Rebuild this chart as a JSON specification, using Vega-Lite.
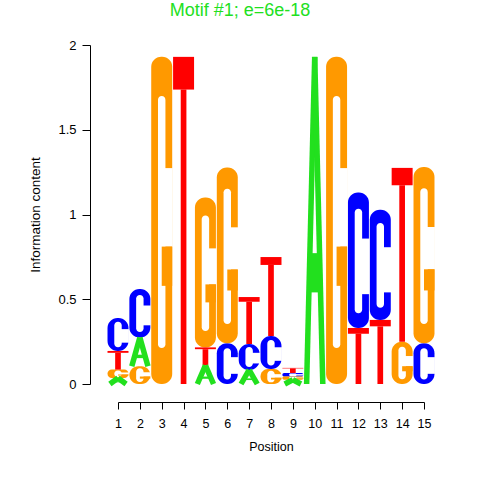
{
  "$schema": "https://vega.github.io/schema/vega-lite/v6.json",
  "width": 306,
  "height": 339,
  "autosize": {"type": "none"},
  "padding": {"left": 118, "top": 45, "right": 56, "bottom": 96},
  "background": "white",
  "title": {"text": "Motif #1; e=6e-18", "color": "#22E01E", "font": "Liberation Sans", "fontSize": 18, "fontWeight": "normal", "anchor": "middle", "frame": "group", "dx": -31, "offset": 19},
  "config": {
    "view": {"stroke": null},
    "axisX": {"offset": 18, "tickSize": 7, "labelPadding": 8, "labelFontSize": 12.5, "labelFont": "Liberation Sans", "labelColor": "black", "labelAngle": 0, "labelFlush": false, "labelOverlap": false, "labelBound": false, "titleFont": "Liberation Sans", "titleFontSize": 12.5, "titleFontWeight": "normal", "titleColor": "black", "titlePadding": 11, "domainColor": "black", "tickColor": "black", "grid": false},
    "axisY": {"offset": 28, "tickSize": 8, "labelPadding": 6, "labelFontSize": 13, "labelFont": "Liberation Sans", "labelColor": "black", "labelFlush": false, "labelOverlap": false, "labelBound": false, "titleFont": "Liberation Sans", "titleFontSize": 13.5, "titleFontWeight": "normal", "titleColor": "black", "titlePadding": 15, "domainColor": "black", "tickColor": "black", "grid": false}
  },
  "data": {"values": [
    {"pos": 1, "letter": "A", "bits": 0.035, "order": 1},
    {"pos": 1, "letter": "G", "bits": 0.05, "order": 2},
    {"pos": 1, "letter": "T", "bits": 0.11, "order": 3},
    {"pos": 1, "letter": "C", "bits": 0.195, "order": 4},
    {"pos": 2, "letter": "G", "bits": 0.105, "order": 1},
    {"pos": 2, "letter": "A", "bits": 0.17, "order": 2},
    {"pos": 2, "letter": "C", "bits": 0.285, "order": 3},
    {"pos": 3, "letter": "G", "bits": 1.93, "order": 1},
    {"pos": 4, "letter": "T", "bits": 1.93, "order": 1},
    {"pos": 5, "letter": "A", "bits": 0.11, "order": 1},
    {"pos": 5, "letter": "T", "bits": 0.106, "order": 2},
    {"pos": 5, "letter": "G", "bits": 0.885, "order": 3},
    {"pos": 6, "letter": "C", "bits": 0.24, "order": 1},
    {"pos": 6, "letter": "G", "bits": 1.037, "order": 2},
    {"pos": 7, "letter": "A", "bits": 0.083, "order": 1},
    {"pos": 7, "letter": "C", "bits": 0.153, "order": 2},
    {"pos": 7, "letter": "T", "bits": 0.277, "order": 3},
    {"pos": 8, "letter": "G", "bits": 0.088, "order": 1},
    {"pos": 8, "letter": "C", "bits": 0.195, "order": 2},
    {"pos": 8, "letter": "T", "bits": 0.466, "order": 3},
    {"pos": 9, "letter": "A", "bits": 0.025, "order": 1},
    {"pos": 9, "letter": "G", "bits": 0.02, "order": 2},
    {"pos": 9, "letter": "C", "bits": 0.02, "order": 3},
    {"pos": 9, "letter": "T", "bits": 0.03, "order": 4},
    {"pos": 10, "letter": "A", "bits": 1.93, "order": 1},
    {"pos": 11, "letter": "G", "bits": 1.93, "order": 1},
    {"pos": 12, "letter": "T", "bits": 0.33, "order": 1},
    {"pos": 12, "letter": "C", "bits": 0.8, "order": 2},
    {"pos": 13, "letter": "T", "bits": 0.378, "order": 1},
    {"pos": 13, "letter": "C", "bits": 0.65, "order": 2},
    {"pos": 14, "letter": "G", "bits": 0.25, "order": 1},
    {"pos": 14, "letter": "T", "bits": 1.025, "order": 2},
    {"pos": 15, "letter": "C", "bits": 0.24, "order": 1},
    {"pos": 15, "letter": "G", "bits": 1.04, "order": 2}
  ]},
  "transform": [
    {"stack": "bits", "groupby": ["pos"], "sort": [{"field": "order", "order": "ascending"}], "as": ["y0", "y1"]},
    {"calculate": "datum.y1 - datum.y0", "as": "h"},
    {"calculate": "datum.pos - 0.48", "as": "xl"},
    {"calculate": "datum.pos + 0.48", "as": "xr"}
  ],
  "layer": [
    {
      "transform": [{"filter": "datum.letter == 'C' || datum.letter == 'G'"}],
      "mark": {"type": "rect", "cornerRadius": 10},
      "encoding": {
        "x": {"field": "xl", "type": "quantitative", "title": "Position", "scale": {"domain": [1, 15], "nice": false, "zero": false},
          "axis": {"values": [1,2,3,4,5,6,7,8,9,10,11,12,13,14,15], "format": "d", "labelOverlap": false}},
        "x2": {"field": "xr"},
        "y": {"field": "y0", "type": "quantitative", "title": "Information content", "scale": {"domain": [0, 2], "nice": false, "zero": false},
          "axis": {"values": [0, 0.5, 1, 1.5, 2], "format": "~g", "labelOverlap": false}},
        "y2": {"field": "y1"},
        "color": {"field": "letter", "type": "nominal", "scale": {"domain": ["A", "C", "G", "T"], "range": ["#22E01E", "#0000FF", "#FF9900", "#FF0000"]}, "legend": null}
      }
    },
    {
      "transform": [
        {"filter": "datum.letter == 'C' || datum.letter == 'G'"},
        {"calculate": "datum.pos - 0.17", "as": "ix1"},
        {"calculate": "datum.pos + 0.17", "as": "ix2"},
        {"calculate": "datum.y0 + 0.11 * datum.h", "as": "iy0"},
        {"calculate": "datum.y1 - 0.12 * datum.h", "as": "iy1"}
      ],
      "mark": {"type": "rect", "color": "white", "cornerRadius": 4},
      "encoding": {
        "x": {"field": "ix1", "type": "quantitative", "title": "Position", "axis": {"values": [1,2,3,4,5,6,7,8,9,10,11,12,13,14,15], "format": "d", "labelOverlap": false}},
        "x2": {"field": "ix2"},
        "y": {"field": "iy0", "type": "quantitative", "title": "Information content", "axis": {"values": [0, 0.5, 1, 1.5, 2], "format": "~g", "labelOverlap": false}},
        "y2": {"field": "iy1"}
      }
    },
    {
      "transform": [
        {"filter": "datum.letter == 'C' || datum.letter == 'G'"},
        {"calculate": "datum.pos + 0.02", "as": "gx1"},
        {"calculate": "datum.pos + 0.5", "as": "gx2"},
        {"calculate": "datum.y0 + (datum.letter == 'C' ? 0.25 : 0.42) * datum.h", "as": "gy0"},
        {"calculate": "datum.y0 + 0.66 * datum.h", "as": "gy1"}
      ],
      "mark": {"type": "rect", "color": "white"},
      "encoding": {
        "x": {"field": "gx1", "type": "quantitative", "title": "Position", "axis": {"values": [1,2,3,4,5,6,7,8,9,10,11,12,13,14,15], "format": "d", "labelOverlap": false}},
        "x2": {"field": "gx2"},
        "y": {"field": "gy0", "type": "quantitative", "title": "Information content", "axis": {"values": [0, 0.5, 1, 1.5, 2], "format": "~g", "labelOverlap": false}},
        "y2": {"field": "gy1"}
      }
    },
    {
      "transform": [
        {"filter": "datum.letter == 'G'"},
        {"calculate": "datum.pos + 0.48", "as": "bx2"},
        {"calculate": "datum.y0 + 0.30 * datum.h", "as": "by0"},
        {"calculate": "datum.y0 + 0.42 * datum.h", "as": "by1"}
      ],
      "mark": {"type": "rect"},
      "encoding": {
        "x": {"field": "pos", "type": "quantitative", "title": "Position", "axis": {"values": [1,2,3,4,5,6,7,8,9,10,11,12,13,14,15], "format": "d", "labelOverlap": false}},
        "x2": {"field": "bx2"},
        "y": {"field": "by0", "type": "quantitative", "title": "Information content", "axis": {"values": [0, 0.5, 1, 1.5, 2], "format": "~g", "labelOverlap": false}},
        "y2": {"field": "by1"},
        "color": {"field": "letter", "type": "nominal", "legend": null}
      }
    },
    {
      "transform": [
        {"filter": "datum.letter == 'T'"},
        {"calculate": "datum.y1 - 0.1 * datum.h", "as": "tc"}
      ],
      "mark": {"type": "rect"},
      "encoding": {
        "x": {"field": "xl", "type": "quantitative", "title": "Position", "axis": {"values": [1,2,3,4,5,6,7,8,9,10,11,12,13,14,15], "format": "d", "labelOverlap": false}},
        "x2": {"field": "xr"},
        "y": {"field": "tc", "type": "quantitative", "title": "Information content", "axis": {"values": [0, 0.5, 1, 1.5, 2], "format": "~g", "labelOverlap": false}},
        "y2": {"field": "y1"},
        "color": {"field": "letter", "type": "nominal", "legend": null}
      }
    },
    {
      "transform": [
        {"filter": "datum.letter == 'T'"},
        {"calculate": "datum.y1 - 0.1 * datum.h", "as": "tc"},
        {"calculate": "datum.pos - 0.13", "as": "sx1"},
        {"calculate": "datum.pos + 0.13", "as": "sx2"}
      ],
      "mark": {"type": "rect"},
      "encoding": {
        "x": {"field": "sx1", "type": "quantitative", "title": "Position", "axis": {"values": [1,2,3,4,5,6,7,8,9,10,11,12,13,14,15], "format": "d", "labelOverlap": false}},
        "x2": {"field": "sx2"},
        "y": {"field": "y0", "type": "quantitative", "title": "Information content", "axis": {"values": [0, 0.5, 1, 1.5, 2], "format": "~g", "labelOverlap": false}},
        "y2": {"field": "tc"},
        "color": {"field": "letter", "type": "nominal", "legend": null}
      }
    },
    {
      "transform": [
        {"filter": "datum.letter == 'A'"},
        {"calculate": "datum.pos - 0.37", "as": "ax1"}
      ],
      "mark": {"type": "rule", "strokeWidth": 5.5, "strokeCap": "butt"},
      "encoding": {
        "x": {"field": "ax1", "type": "quantitative", "title": "Position", "axis": {"values": [1,2,3,4,5,6,7,8,9,10,11,12,13,14,15], "format": "d", "labelOverlap": false}},
        "y": {"field": "y0", "type": "quantitative", "title": "Information content", "axis": {"values": [0, 0.5, 1, 1.5, 2], "format": "~g", "labelOverlap": false}},
        "x2": {"field": "pos"},
        "y2": {"field": "y1"},
        "color": {"field": "letter", "type": "nominal", "legend": null}
      }
    },
    {
      "transform": [
        {"filter": "datum.letter == 'A'"},
        {"calculate": "datum.pos + 0.37", "as": "ax2"}
      ],
      "mark": {"type": "rule", "strokeWidth": 5.5, "strokeCap": "butt"},
      "encoding": {
        "x": {"field": "pos", "type": "quantitative", "title": "Position", "axis": {"values": [1,2,3,4,5,6,7,8,9,10,11,12,13,14,15], "format": "d", "labelOverlap": false}},
        "y": {"field": "y1", "type": "quantitative", "title": "Information content", "axis": {"values": [0, 0.5, 1, 1.5, 2], "format": "~g", "labelOverlap": false}},
        "x2": {"field": "ax2"},
        "y2": {"field": "y0"},
        "color": {"field": "letter", "type": "nominal", "legend": null}
      }
    },
    {
      "transform": [
        {"filter": "datum.letter == 'A'"},
        {"calculate": "datum.pos - 0.25", "as": "cx1"},
        {"calculate": "datum.pos + 0.25", "as": "cx2"},
        {"calculate": "datum.y0 + 0.28 * datum.h", "as": "cy0"},
        {"calculate": "datum.y0 + 0.40 * datum.h", "as": "cy1"}
      ],
      "mark": {"type": "rect"},
      "encoding": {
        "x": {"field": "cx1", "type": "quantitative", "title": "Position", "axis": {"values": [1,2,3,4,5,6,7,8,9,10,11,12,13,14,15], "format": "d", "labelOverlap": false}},
        "x2": {"field": "cx2"},
        "y": {"field": "cy0", "type": "quantitative", "title": "Information content", "axis": {"values": [0, 0.5, 1, 1.5, 2], "format": "~g", "labelOverlap": false}},
        "y2": {"field": "cy1"},
        "color": {"field": "letter", "type": "nominal", "legend": null}
      }
    }
  ]
}
